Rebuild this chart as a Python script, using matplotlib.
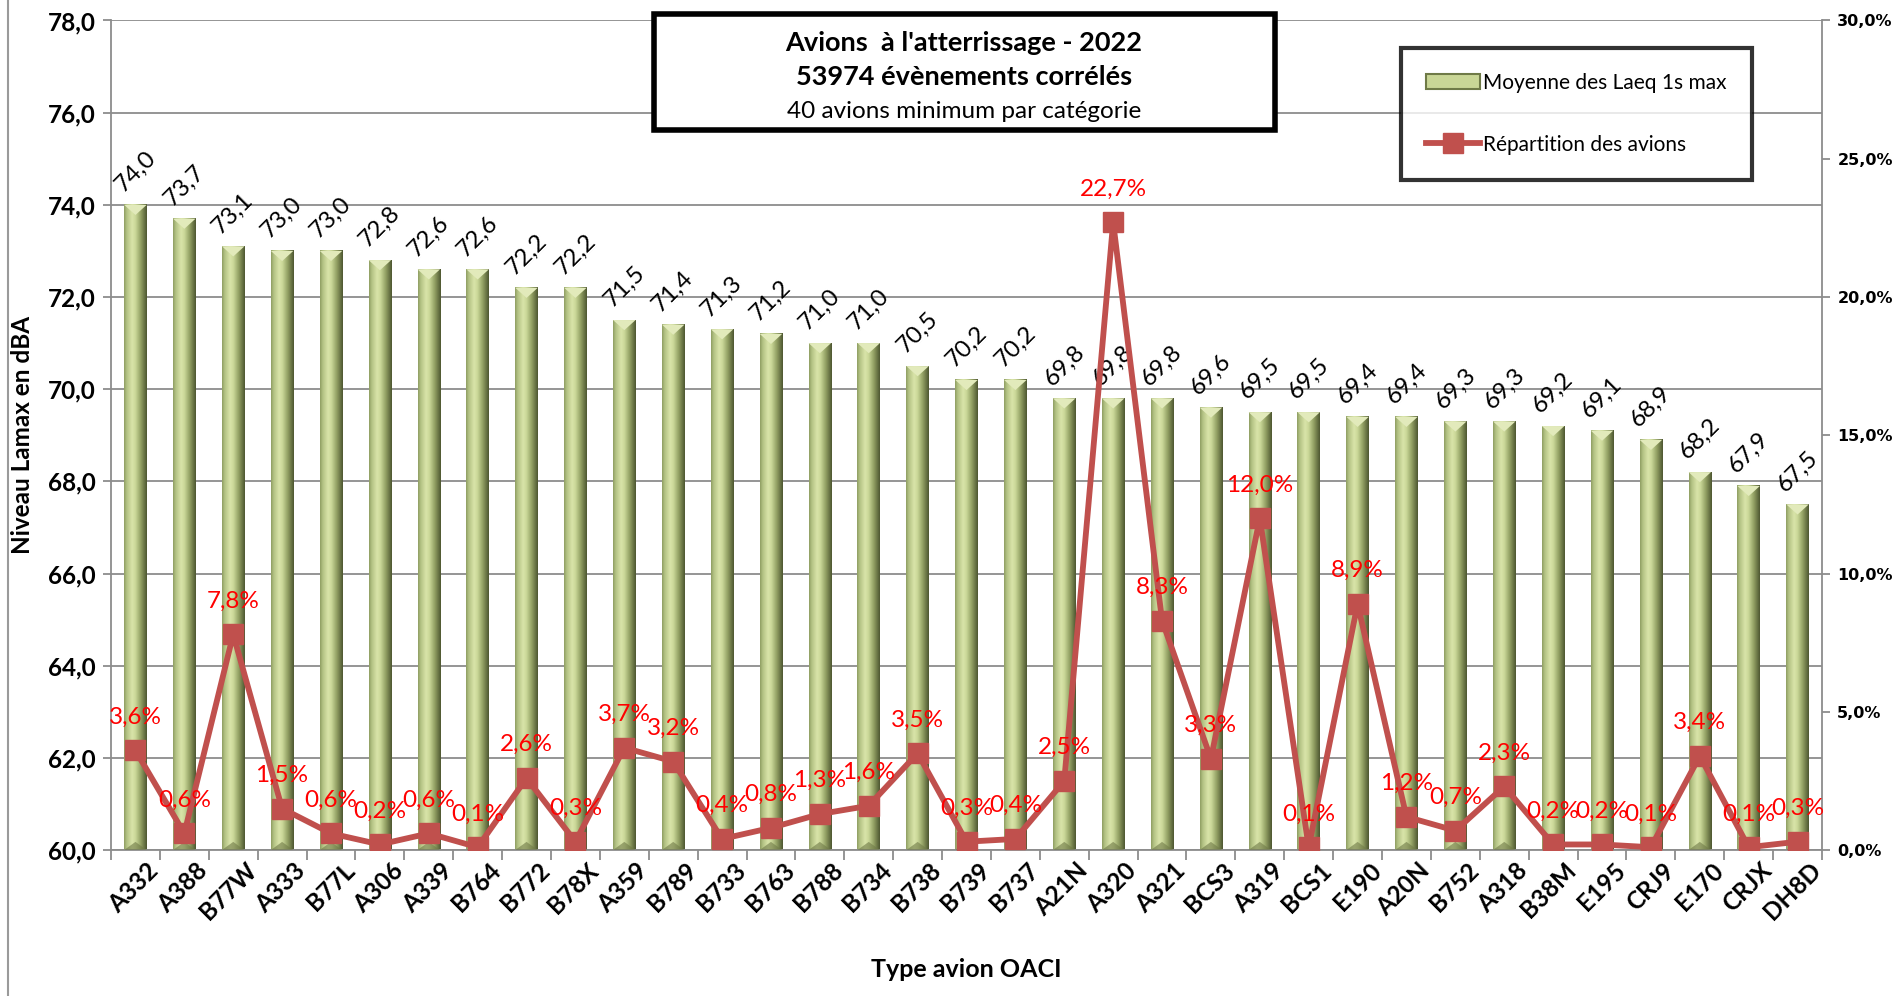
import numpy as np
import matplotlib
matplotlib.use("Agg")
from matplotlib import pyplot as plt
from matplotlib.colors import LinearSegmentedColormap
from matplotlib.patches import Rectangle, Polygon, Patch
from matplotlib.lines import Line2D
from matplotlib import transforms
from matplotlib.ticker import FuncFormatter

plt.rcParams['font.family'] = ['Lato', 'DejaVu Sans']

# Data
types = ["A332", "A388", "B77W", "A333", "B77L", "A306", "A339", "B764", "B772", "B78X",
         "A359", "B789", "B733", "B763", "B788", "B734", "B738", "B739", "B737", "A21N",
         "A320", "A321", "BCS3", "A319", "BCS1", "E190", "A20N", "B752", "A318", "B38M",
         "E195", "CRJ9", "E170", "CRJX", "DH8D"]
lamax = [74.0, 73.7, 73.1, 73.0, 73.0, 72.8, 72.6, 72.6, 72.2, 72.2,
         71.5, 71.4, 71.3, 71.2, 71.0, 71.0, 70.5, 70.2, 70.2, 69.8,
         69.8, 69.8, 69.6, 69.5, 69.5, 69.4, 69.4, 69.3, 69.3, 69.2,
         69.1, 68.9, 68.2, 67.9, 67.5]
repartition = [3.6, 0.6, 7.8, 1.5, 0.6, 0.2, 0.6, 0.1, 2.6, 0.3,
               3.7, 3.2, 0.4, 0.8, 1.3, 1.6, 3.5, 0.3, 0.4, 2.5,
               22.7, 8.3, 3.3, 12.0, 0.1, 8.9, 1.2, 0.7, 2.3, 0.2,
               0.2, 0.1, 3.4, 0.1, 0.3]

title_lines = ["Avions  à l'atterrissage - 2022", "53974 évènements corrélés",
               "40 avions minimum par catégorie"]
bar_label = "Moyenne des Laeq 1s max"
line_label = "Répartition des avions"

W, H = 1894, 996
fig = plt.figure(figsize=(W / 100, H / 100), dpi=100)
ax = fig.add_axes([111 / W, 1 - 850 / H, (1822 - 111) / W, (850 - 20.5) / H])

grid_col = '#8c8c8c'
ymin, ymax = 60, 78
x = np.arange(len(types))
bw = 0.46

# cylinder-like gradient for the bars
grad = LinearSegmentedColormap.from_list('bar', [
    (0.0, '#8f9d62'), (0.12, '#b3c284'), (0.35, '#d9e4a9'), (0.5, '#cbd899'),
    (0.75, '#8e9c60'), (1.0, '#4d5631')])
g = np.linspace(0, 1, 128)[None, :]
d = 0.22  # bevel height in data units
for xi, v in zip(x, lamax):
    x0, x1 = xi - bw / 2, xi + bw / 2
    ax.imshow(g, cmap=grad, extent=[x0, x1, ymin, v], aspect='auto',
              interpolation='bilinear', zorder=2)
    ax.add_patch(Polygon([[x0, v], [x1, v], [xi, v - d]], closed=True,
                         facecolor='#e2eabb', edgecolor='none', zorder=3))
    ax.add_patch(Polygon([[x0, ymin], [x1, ymin], [xi, ymin + d * 0.8]], closed=True,
                         facecolor='#6f7a47', edgecolor='none', alpha=0.6, zorder=3))
    ax.annotate(f"{v:.1f}".replace('.', ','), (xi, v), xytext=(0, 24),
                textcoords='offset points', rotation=45, rotation_mode='anchor',
                ha='center', va='center', fontsize=17.5, color='black', zorder=4)

ax.set_xlim(-0.5, len(types) - 0.5)
ax.set_ylim(ymin, ymax)
ax.set_yticks(np.arange(60, 79, 2))
ax.yaxis.set_major_formatter(FuncFormatter(lambda v, p: f"{v:.1f}".replace('.', ',')))
ax.grid(axis='y', color=grid_col, lw=1.3)
ax.set_axisbelow(True)
for s in ['top', 'right']:
    ax.spines[s].set_visible(False)
for s in ['left', 'bottom']:
    ax.spines[s].set_color(grid_col)
    ax.spines[s].set_linewidth(1.3)
ax.tick_params(axis='y', colors=grid_col, length=6, width=1.3, labelcolor='black',
               labelsize=17.5, pad=5)
for lab in ax.get_yticklabels():
    lab.set_fontweight('bold')

ax.set_xticks(x)
ax.set_xticks(np.arange(-0.5, len(types), 1), minor=True)
ax.set_xticklabels(types, rotation=45, ha='right', va='center', rotation_mode='anchor',
                   fontsize=17.5, fontweight='bold')
ax.tick_params(axis='x', which='major', length=0, pad=12)
ax.tick_params(axis='x', which='minor', length=7, width=1.3, color=grid_col)
offset = transforms.ScaledTranslation(14 / 72, 0, fig.dpi_scale_trans)
for lab in ax.get_xticklabels():
    lab.set_transform(lab.get_transform() + offset)

ax.set_xlabel("Type avion OACI", fontsize=18, fontweight='bold', labelpad=24)
ax.set_ylabel("Niveau Lamax en dBA", fontsize=17.5, fontweight='bold', labelpad=10)

# percentage line on the secondary axis
ax2 = ax.twinx()
ax2.set_ylim(0, 30)
ax2.plot(x, repartition, color='#c0504d', lw=4.2, marker='s', ms=14, zorder=5)
for xi, p in zip(x, repartition):
    ax2.annotate(f"{p:.1f}%".replace('.', ','), (xi, p), xytext=(0, 24),
                 textcoords='offset points', ha='center', va='center',
                 fontsize=17.5, color='#ff0000', zorder=6)
ax2.set_yticks(np.arange(0, 31, 5))
ax2.yaxis.set_major_formatter(FuncFormatter(lambda v, p: f"{v:.1f}%".replace('.', ',')))
for s in ['top', 'left', 'bottom']:
    ax2.spines[s].set_visible(False)
ax2.spines['right'].set_color(grid_col)
ax2.spines['right'].set_linewidth(1.3)
ax2.tick_params(axis='y', colors=grid_col, length=6, width=1.3, labelcolor='black',
                labelsize=11.5, pad=5)
for lab in ax2.get_yticklabels():
    lab.set_fontweight('bold')
    lab.set_family('DejaVu Sans')

# title box
fig.add_artist(Rectangle((654 / W, 1 - 130 / H), (1275 - 654) / W, (130 - 14) / H,
                         transform=fig.transFigure, facecolor='white', edgecolor='black',
                         lw=4, zorder=10))
fig.text(964 / W, 1 - 43 / H, title_lines[0], ha='center', va='center', fontsize=19.5,
         fontweight='bold', zorder=11)
fig.text(964 / W, 1 - 77 / H, title_lines[1], ha='center', va='center', fontsize=19.5,
         fontweight='bold', zorder=11)
fig.text(964 / W, 1 - 111 / H, title_lines[2], ha='center', va='center', fontsize=17.5,
         zorder=11)

# legend box
handles = [Patch(facecolor='#c9d696', edgecolor='#6f7a47', lw=1.5),
           Line2D([], [], color='#c0504d', lw=4.2, marker='s', ms=14)]
leg = fig.legend(handles, [bar_label, line_label], loc='upper left',
                 bbox_to_anchor=(1401 / W, 1 - 48 / H), fontsize=15, frameon=True,
                 fancybox=False, borderpad=1.2, labelspacing=2.0, handlelength=2.6,
                 handletextpad=0.15, borderaxespad=0)
leg.get_frame().set_edgecolor('black')
leg.get_frame().set_linewidth(3)
leg.set_zorder(10)

# left border of the chart area
fig.add_artist(Line2D([8 / W, 8 / W], [0, 1], transform=fig.transFigure,
                      color='#9a9a9a', lw=1.5))

fig.savefig("out.png", dpi=100)
